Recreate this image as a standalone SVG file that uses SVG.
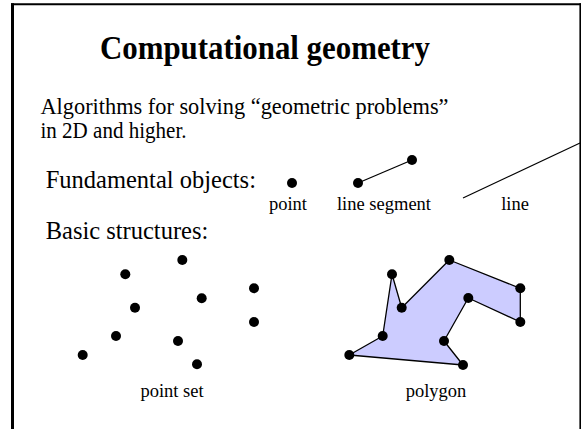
<svg xmlns="http://www.w3.org/2000/svg" width="581" height="429" viewBox="0 0 581 429">
  <style>
    .title { font-family: "Liberation Serif", "Times New Roman", serif; font-weight: bold; font-size: 33px; fill: #000; }
    .main { font-family: "Liberation Serif", "Times New Roman", serif; font-size: 23px; fill: #000; }
    .main2 { font-family: "Liberation Serif", "Times New Roman", serif; font-size: 24.5px; fill: #000; }
    .small { font-family: "Liberation Serif", "Times New Roman", serif; font-size: 18.5px; fill: #000; }
    .ln { stroke: #000; stroke-width: 1.3; fill: none; }
  </style>
  <defs>
    <circle id="dot" r="5" fill="#000"/>
  </defs>
  <rect width="581" height="429" fill="#fff"/>
  <g id="frame">
    <line x1="12.5" y1="3.3" x2="12.5" y2="429" stroke="#000" stroke-width="3"/>
    <line x1="11" y1="4.3" x2="581" y2="4.3" stroke="#000" stroke-width="2"/>
    <line x1="580.2" y1="3.3" x2="580.2" y2="429" stroke="#000" stroke-width="1.6"/>
  </g>
  <g id="title">
    <text class="title" x="265" y="59" text-anchor="middle" textLength="330" lengthAdjust="spacingAndGlyphs">Computational geometry</text>
  </g>
  <g id="body-text">
    <text class="main" x="40.5" y="114" textLength="408" lengthAdjust="spacingAndGlyphs">Algorithms for solving “geometric problems”</text>
    <text class="main" x="40.5" y="137.5" textLength="146" lengthAdjust="spacingAndGlyphs">in 2D and higher.</text>
    <text class="main2" x="45.7" y="188.3">Fundamental objects:</text>
    <text class="main2" x="45.7" y="239.3">Basic structures:</text>
  </g>
  <g id="point">
    <use href="#dot" x="292" y="183"/>
    <text class="small" x="288" y="210" text-anchor="middle">point</text>
  </g>
  <g id="line-segment">
    <line class="ln" x1="358" y1="183" x2="412" y2="160"/>
    <use href="#dot" x="358" y="183"/>
    <use href="#dot" x="412" y="160"/>
    <text class="small" x="384" y="210" text-anchor="middle">line segment</text>
  </g>
  <g id="line">
    <line class="ln" x1="463" y1="198" x2="580" y2="143"/>
    <text class="small" x="515" y="210" text-anchor="middle">line</text>
  </g>
  <g id="point-set">
    <use href="#dot" x="182.3" y="260"/>
    <use href="#dot" x="125.3" y="274.3"/>
    <use href="#dot" x="254" y="288.3"/>
    <use href="#dot" x="201.7" y="298.3"/>
    <use href="#dot" x="135" y="307.7"/>
    <use href="#dot" x="254" y="322"/>
    <use href="#dot" x="116" y="336"/>
    <use href="#dot" x="178" y="341"/>
    <use href="#dot" x="82.7" y="355"/>
    <use href="#dot" x="197" y="364.3"/>
    <text class="small" x="172" y="397" text-anchor="middle">point set</text>
  </g>
  <g id="polygon">
    <polygon points="349.3,355 382.7,336 392,274.3 401.7,307.7 449.3,260 520.3,288.3 520.3,322 468.3,298 444,341 463,365" fill="#ccccff" stroke="#000" stroke-width="1.3" stroke-linejoin="round"/>
    <use href="#dot" x="449.3" y="260"/>
    <use href="#dot" x="392" y="274.3"/>
    <use href="#dot" x="520.3" y="288.3"/>
    <use href="#dot" x="468.3" y="298"/>
    <use href="#dot" x="401.7" y="307.7"/>
    <use href="#dot" x="520.3" y="322"/>
    <use href="#dot" x="382.7" y="336"/>
    <use href="#dot" x="444" y="341"/>
    <use href="#dot" x="349.3" y="355"/>
    <use href="#dot" x="463" y="365"/>
    <text class="small" x="436" y="397" text-anchor="middle">polygon</text>
  </g>
</svg>
